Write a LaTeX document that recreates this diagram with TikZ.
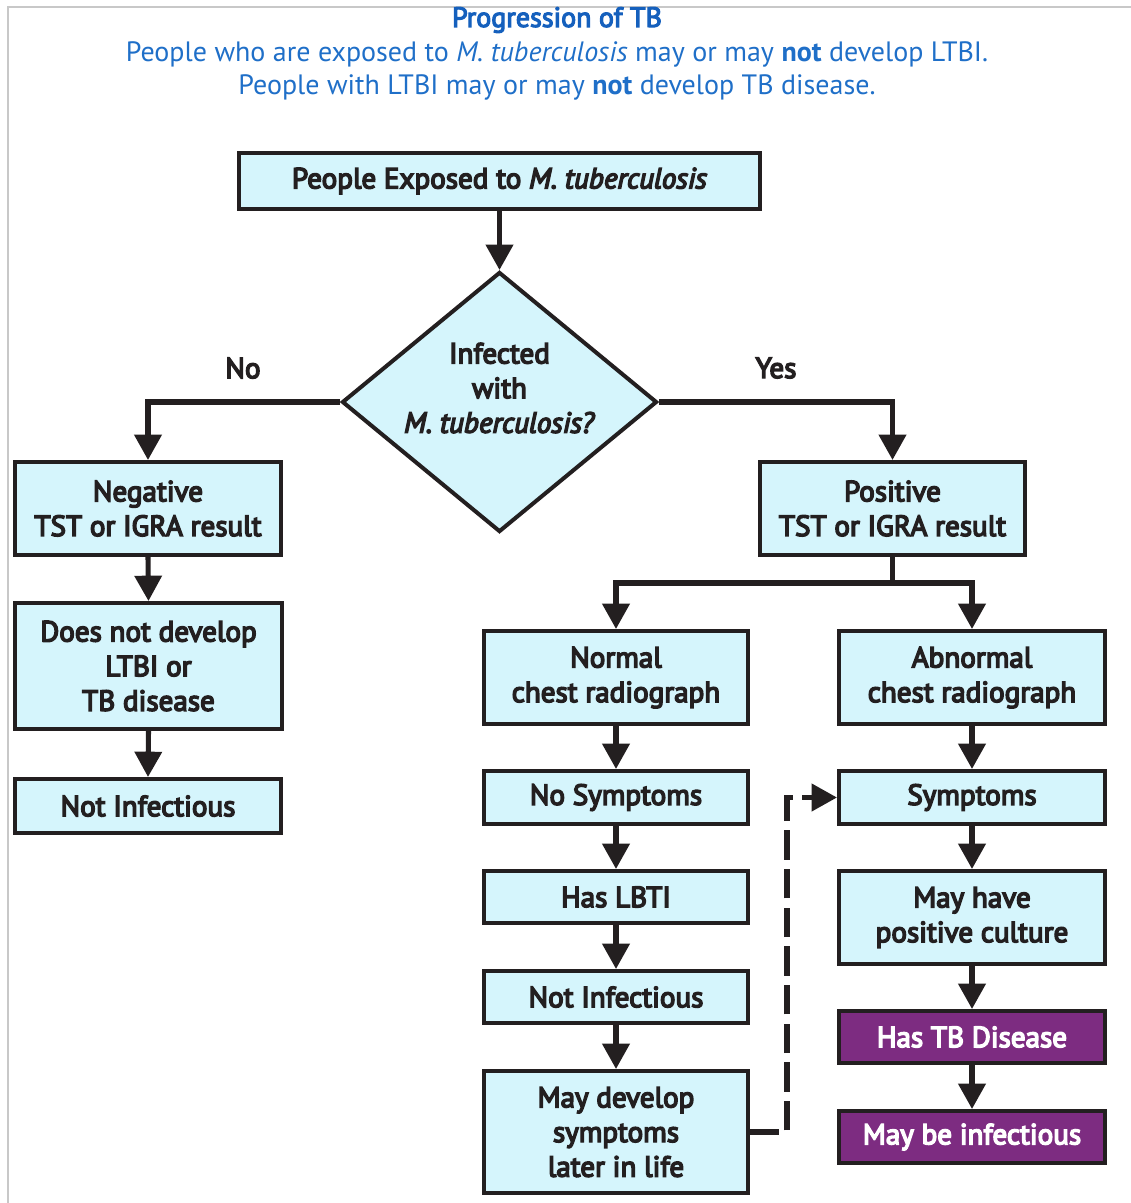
\documentclass[tikz,border=0pt]{standalone}
\usepackage{fontspec}
\setmainfont{PT Sans}
\newfontfamily\boxfont{PT Sans}[FakeBold=5]
\newfontfamily\ttlboldfont{PT Sans}[FakeBold=4]
\usetikzlibrary{arrows.meta,shapes.geometric}
\definecolor{boxcyan}{HTML}{D5F5FC}
\definecolor{tbpurple}{HTML}{7D2C81}
\definecolor{titleblue}{HTML}{1F6FC8}
\definecolor{titledark}{HTML}{1560BD}
\definecolor{ink}{HTML}{231F20}
\definecolor{framegray}{HTML}{C8C8C8}
\newcommand{\px}{0.75pt}
\tikzset{
  box/.style={draw=ink, line width=3pt, fill=boxcyan, align=center, text=ink,
    font=\boxfont\fontsize{21.8}{26}\selectfont, inner sep=0pt},
  pbox/.style={box, fill=tbpurple, text=white},
  arr/.style={draw=ink, line width=3.8pt, line join=miter,
    -{Triangle[width=20pt,length=19pt]}},
  darr/.style={arr, dash pattern=on 22pt off 7pt},
  ttl/.style={text=titleblue, font=\fontsize{21}{24}\selectfont, inner sep=0pt},
  lbl/.style={text=ink, font=\boxfont\fontsize{21.8}{26}\selectfont, inner sep=0pt}
}
\begin{document}
\begin{tikzpicture}[x=0.75pt,y=-0.75pt]
\useasboundingbox (0,0) rectangle (1131,1203);
\draw[framegray, line width=1.5pt] (8,1203) -- (8,7) -- (1131,7);
% title
\node[ttl, text=titledark, font=\ttlboldfont\fontsize{21}{24}\selectfont] (t1) at (557,20) {Progression of TB};
\node[ttl] (t2) at (557,54) {People who are exposed to \textit{M. tuberculosis} may or may \textbf{not} develop LTBI.};
\node[ttl] (t3) at (557,87) {People with LTBI may or may \textbf{not} develop TB disease.};
% nodes
\node[box, minimum width={521*\px}, minimum height={56*\px}] (exp) at (499.5,181) {People Exposed to \textit{M. tuberculosis}};
\node[diamond, draw=ink, line width=3pt, fill=boxcyan, inner sep=0pt, minimum width={315*\px}, minimum height={260*\px}, aspect=1.21] (dia) at (499.5,402) {};
\node[lbl, align=center] (dtext) at (499.5,388) {Infected\\with\\\textit{M. tuberculosis?}};
\node[lbl] (no) at (243,368) {No};
\node[lbl] (yes) at (776,368) {Yes};
\node[box, minimum width={266*\px}, minimum height={93*\px}] (neg) at (148,508.5) {Negative\\TST or IGRA result};
\node[box, minimum width={267*\px}, minimum height={126*\px}] (dnd) at (148.5,666) {Does not develop\\LTBI or\\TB disease};
\node[box, minimum width={266*\px}, minimum height={54*\px}] (ni1) at (148,806) {Not Infectious};
\node[box, minimum width={265*\px}, minimum height={93*\px}] (pos) at (892.5,508.5) {Positive\\TST or IGRA result};
\node[box, minimum width={264*\px}, minimum height={93*\px}] (nor) at (616,677.5) {Normal\\chest radiograph};
\node[box, minimum width={266*\px}, minimum height={93*\px}] (abn) at (972,677.5) {Abnormal\\chest radiograph};
\node[box, minimum width={264*\px}, minimum height={53*\px}] (nos) at (616,797.5) {No Symptoms};
\node[box, minimum width={264*\px}, minimum height={52*\px}] (lbti) at (616,897) {Has LBTI};
\node[box, minimum width={264*\px}, minimum height={52*\px}] (ni2) at (616,997) {Not Infectious};
\node[box, minimum width={264*\px}, minimum height={122*\px}] (mds) at (616,1132) {May develop\\symptoms\\later in life};
\node[box, minimum width={266*\px}, minimum height={53*\px}] (sym) at (972,797.5) {Symptoms};
\node[box, minimum width={266*\px}, minimum height={93*\px}] (cul) at (972,917.5) {May have\\positive culture};
\node[pbox, minimum width={266*\px}, minimum height={52*\px}] (dis) at (972,1037) {Has TB Disease};
\node[pbox, minimum width={266*\px}, minimum height={52*\px}] (inf) at (972,1137) {May be infectious};
% connectors
\draw[arr] (exp.south) -- (dia.north);
\draw[arr] (dia.west) -| (neg.north);
\draw[arr] (dia.east) -| (pos.north);
\draw[arr] (neg.south) -- (dnd.north);
\draw[arr] (dnd.south) -- (ni1.north);
\draw[line width=3.8pt, draw=ink] (pos.south) -- ++(0,26) coordinate (split);
\draw[arr] (split) -| (nor.north);
\draw[arr] (split) -| (abn.north);
\draw[arr] (nor.south) -- (nos.north);
\draw[arr] (nos.south) -- (lbti.north);
\draw[arr] (lbti.south) -- (ni2.north);
\draw[arr] (ni2.south) -- (mds.north);
\draw[arr] (abn.south) -- (sym.north);
\draw[arr] (sym.south) -- (cul.north);
\draw[arr] (cul.south) -- (dis.north);
\draw[arr] (dis.south) -- (inf.north);
\draw[darr] (mds.east) -- ++(37,0) |- (sym.west);
\end{tikzpicture}
\end{document}
